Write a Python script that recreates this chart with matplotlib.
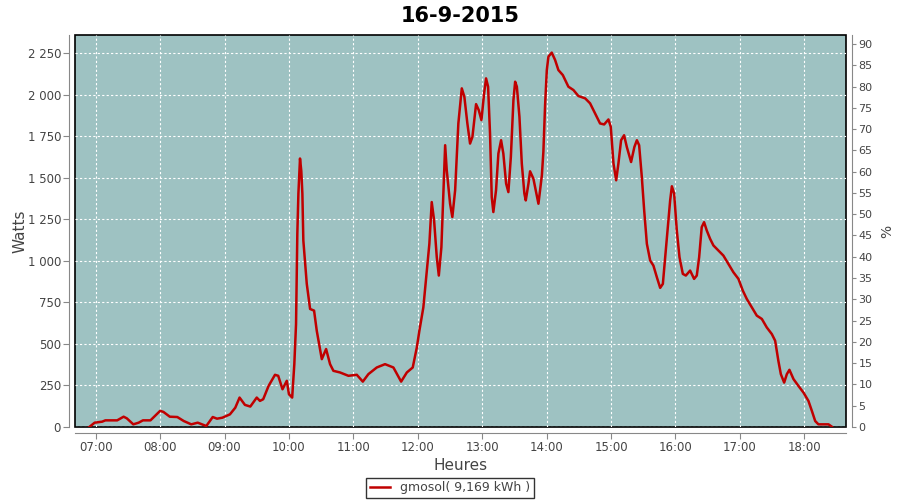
import matplotlib
matplotlib.use("Agg")
import numpy as np
from matplotlib import pyplot as plt
from matplotlib.ticker import FuncFormatter, MultipleLocator

# minutes since midnight
minutes = [414, 419, 426, 429, 440, 446, 449, 455, 460, 464, 471, 480, 483, 489, 496,
           502, 509, 515, 519, 523, 529, 533, 538, 545, 550, 554, 559, 564, 570, 573,
           576, 581, 587, 590, 594, 598, 600, 603, 605, 606.6, 607.8, 608.8, 610.3, 611.5,
           612.5, 613.4, 616.6, 619.7, 623.4, 625.9, 630.6, 634.6, 638.3, 641.4, 647.6,
           655.4, 663.2, 668.8, 674, 681.8, 689.5, 697.3, 704.5, 709.8, 715.3, 719.1,
           721.5, 725.2, 728.4, 730.8, 733, 735.2, 737.7, 739.6, 742, 743.9, 745.5, 747,
           750.1, 752.2, 754.8, 757.8, 761, 763.4, 766.2, 768.7, 770.9, 774.3, 776.8,
           779.3, 781.8, 783.6, 785.5, 787.3, 788.9, 790.4, 792.9, 795.1, 797.6, 799.7,
           802.3, 804.4, 806.7, 809.1, 810.7, 812.3, 814.7, 816.9, 819.3, 820.6, 823.1,
           824.6, 827.7, 830.2, 832.4, 835.6, 837, 838.6, 840.2, 841.7, 844.8, 847.9,
           851, 855.1, 860.3, 865, 869.6, 875.9, 880.5, 885.2, 889.8, 893.6, 897.6,
           899.8, 902.3, 904.8, 906.9, 909.4, 912.2, 914.7, 918.7, 921.8, 924.1, 926.2,
           928.7, 930.9, 933.4, 936.5, 939.5, 942.7, 945.8, 948.3, 950.5, 953, 955.1,
           956.7, 958.8, 961.3, 963.8, 966.9, 969.7, 973.7, 977.4, 979.9, 982.1, 984.5,
           986.7, 989.2, 992.3, 995.4, 1000, 1004.7, 1009.4, 1014, 1018.7, 1022.8,
           1026.5, 1031.2, 1035.8, 1040.5, 1045.1, 1049.8, 1052.9, 1055.9, 1058.2,
           1061.3, 1063.8, 1066.2, 1070, 1074.6, 1079.3, 1083.9, 1087.1, 1090.2, 1093.2,
           1102.6, 1105.7]
watts = [0, 26, 32, 40, 40, 62, 52, 16, 26, 40, 40, 97, 91, 62, 60,
         36, 16, 26, 16, 6, 60, 50, 56, 76, 116, 177, 133, 123, 177, 157,
         167, 247, 314, 308, 227, 278, 197, 177, 378, 619, 1162, 1404, 1615, 1540,
         1404, 1122, 861, 710, 700, 579, 408, 469, 378, 338, 328,
         308, 314, 273, 318, 358, 378, 358, 273, 328, 358, 478,
         579, 720, 941, 1102, 1353, 1243, 1021, 911, 1082, 1424, 1695, 1544,
         1343, 1263, 1424, 1826, 2037, 1986, 1826, 1705, 1745, 1942, 1906,
         1846, 2007, 2097, 2047, 1766, 1383, 1293, 1424, 1645, 1725, 1645,
         1464, 1413, 1624, 1966, 2077, 2047, 1866, 1585, 1404, 1363, 1464,
         1538, 1494, 1413, 1343, 1514, 1655, 1936, 2147, 2228, 2252, 2208,
         2147, 2117, 2047, 2027, 1991, 1977, 1947, 1886, 1826, 1820, 1850,
         1805, 1585, 1484, 1585, 1725, 1755, 1685, 1594, 1685, 1725, 1695,
         1504, 1303, 1102, 1001, 971, 901, 837, 861, 1021, 1202, 1363,
         1448, 1404, 1182, 1021, 921, 911, 941, 891, 911, 1021, 1202,
         1232, 1182, 1132, 1092, 1062, 1031, 981, 931, 891, 820,
         770, 720, 670, 650, 599, 559, 519, 398, 318,
         267, 318, 344, 288, 247, 207, 157, 97, 36, 16,
         16, 2]

hour_ticks = list(range(420, 1081, 60))
series_label = "gmosol( 9,169 kWh )"
title = "16-9-2015"

bg = "#9ec2c2"
red = "#c00000"
txt = "#444444"

fig = plt.figure(figsize=(9, 5), dpi=100)
ax = fig.add_axes([75 / 900, 1 - 427 / 500, 771 / 900, 392 / 500])
ax.set_facecolor(bg)
ax.patch.set_edgecolor("black")
ax.patch.set_linewidth(1.2)

ax.plot(minutes, watts, color=red, lw=1.8, label=series_label)

ax.set_xlim(400.7, 1118.9)
ax.set_ylim(0, 2358)
ax.set_xticks(hour_ticks)
ax.xaxis.set_major_formatter(FuncFormatter(lambda v, p: "%02d:%02d" % (int(v) // 60, int(v) % 60)))
ax.yaxis.set_major_locator(MultipleLocator(250))
ax.yaxis.set_major_formatter(FuncFormatter(lambda v, p: "{:,}".format(int(v)).replace(",", " ")))
ax.grid(True, color="white", ls=(0, (2, 2)), lw=0.8)

for s in ["top", "right"]:
    ax.spines[s].set_visible(False)
for s in ["left", "bottom"]:
    ax.spines[s].set_position(("outward", 4))
    ax.spines[s].set_color("#888888")
ax.tick_params(colors="#888888", labelcolor=txt, labelsize=8.5, length=4, pad=2)

ax.set_ylabel("Watts", fontsize=11, color=txt)
ax.yaxis.set_label_coords(-0.062, 0.5)
ax.set_xlabel("Heures", fontsize=11, color=txt, labelpad=3)
ax.set_title(title, fontsize=15, fontweight="bold", pad=9)

ax2 = ax.twinx()
ax2.set_ylim(0, 92.1)
ax2.yaxis.set_major_locator(MultipleLocator(5))
for s in ["top", "left", "bottom"]:
    ax2.spines[s].set_visible(False)
ax2.spines["right"].set_position(("outward", 4))
ax2.spines["right"].set_color("#888888")
ax2.tick_params(colors="#888888", labelcolor=txt, labelsize=8, length=3, pad=2)
ax2.set_ylabel("%", fontsize=10, color=txt)
ax2.yaxis.set_label_coords(1.044, 0.5)

fig.legend(loc="center", bbox_to_anchor=(0.5, 0.024), fontsize=9, frameon=True,
           fancybox=False, edgecolor="black", handlelength=1.6, borderpad=0.3,
           labelcolor=txt)

fig.savefig("out.png", dpi=100)
